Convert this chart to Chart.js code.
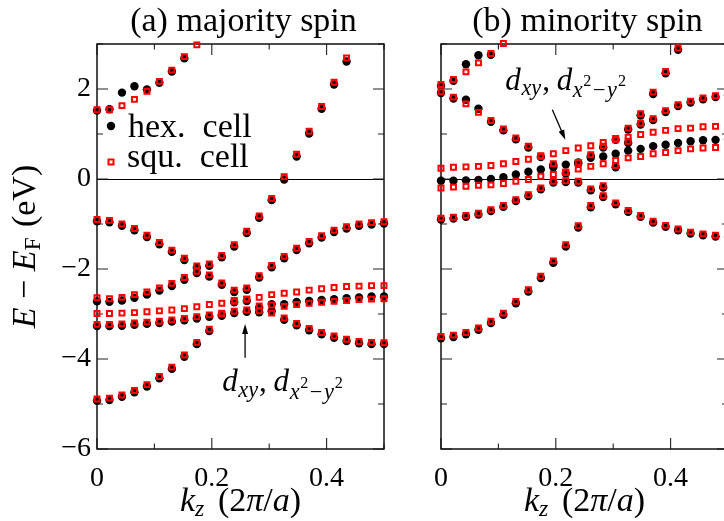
<!DOCTYPE html>
<html>
<head>
<meta charset="utf-8">
<title>Band structure: majority / minority spin</title>
<script src="https://cdn.jsdelivr.net/npm/chart.js@4.4.1/dist/chart.umd.min.js"></script>
<style>
    html, body { margin: 0; padding: 0; background: #fff; overflow: hidden; }
    #wrap { position: relative; width: 724px; height: 521px; overflow: hidden; }
    .panel { position: absolute; top: 0; width: 400px; height: 521px; }
    #panelA { left: 0; }
    #panelB { left: 344px; }
</style>
</head>
<body>
<div id="wrap">
    <div class="panel" id="panelA"><canvas id="majChart" width="400" height="521"></canvas></div>
    <div class="panel" id="panelB"><canvas id="minChart" width="400" height="521"></canvas></div>
</div>
<script>
// k_z grid in units of 2pi/a
const kz = [0, 0.0217, 0.0435, 0.0652, 0.0870, 0.1087, 0.1304, 0.1522, 0.1739, 0.1957, 0.2174, 0.2391,
            0.2609, 0.2826, 0.3043, 0.3261, 0.3478, 0.3696, 0.3913, 0.4130, 0.4348, 0.4565, 0.4783, 0.5000];

// axis ticks
const xTicks = [0, 0.1, 0.2, 0.3, 0.4, 0.5];
const xLabelled = [0, 0.2, 0.4];
const yTicks = [-6, -5, -4, -3, -2, -1, 0, 1, 2, 3];
const yLabelled = [-6, -4, -2, 0, 2];

// (a) majority spin - hex. cell
const majHex1 = [1.52, 1.55, 1.92, 2.06, 1.99, 2.14, 2.39, 2.68, null, null, null, null,
                 null, null, null, null, null, null, null, null, null, null, null, null];
const majHex2 = [-2.72, -2.73, -2.70, -2.64, -2.57, -2.48, -2.38, -2.24, -2.09, -1.93, -1.74, -1.50,
                 -1.20, -0.86, -0.47, -0.01, 0.50, 1.01, 1.56, 2.10, 2.61, null, null, null];
const majHex3 = [-0.94, -0.96, -1.04, -1.14, -1.29, -1.45, -1.62, -1.80, -1.97, -2.17, -2.35, -2.51,
                 -2.71, -2.86, -2.94, -3.13, -3.25, -3.36, -3.45, -3.53, -3.60, -3.65, -3.67, -3.67];
const majHex4 = [-4.93, -4.91, -4.84, -4.74, -4.61, -4.43, -4.22, -3.95, -3.67, -3.38, -3.04, -2.74,
                 -2.46, -2.19, -1.96, -1.76, -1.58, -1.43, -1.30, -1.18, -1.10, -1.04, -1.01, -0.99];
const majHex5 = [-3.27, -3.27, -3.26, -3.24, -3.22, -3.20, -3.17, -3.14, -3.10, -3.06, -3.02, -2.98,
                 -2.95, -2.96, -2.78, -2.78, -2.73, -2.71, -2.69, -2.67, -2.65, -2.63, -2.61, -2.61];

// (a) majority spin - squ. cell
const majSqu1 = [1.54, 1.54, 1.63, 1.77, 1.95, 2.17, 2.42, 2.72, 2.98, null, null, null,
                 null, null, null, null, null, null, null, null, null, null, null, null];
const majSqu2 = [-2.64, -2.66, -2.63, -2.57, -2.51, -2.42, -2.32, -2.19, -2.05, -1.89, -1.70, -1.46,
                 -1.16, -0.82, -0.43, 0.05, 0.55, 1.06, 1.61, 2.15, 2.69, null, null, null];
const majSqu3 = [-0.90, -0.92, -1.00, -1.10, -1.25, -1.41, -1.58, -1.76, -1.93, -2.13, -2.31, -2.47,
                 -2.67, -2.82, -2.98, -3.09, -3.21, -3.32, -3.41, -3.49, -3.56, -3.61, -3.63, -3.64];
const majSqu4 = [-4.89, -4.87, -4.80, -4.70, -4.57, -4.39, -4.18, -3.91, -3.63, -3.34, -3.00, -2.70,
                 -2.42, -2.15, -1.92, -1.72, -1.54, -1.39, -1.26, -1.14, -1.06, -1.00, -0.97, -0.95];
const majSqu5 = [-3.23, -3.23, -3.22, -3.20, -3.18, -3.16, -3.13, -3.10, -3.06, -3.02, -2.98, -2.94,
                 -2.91, -2.93, -2.80, -2.83, -2.79, -2.76, -2.74, -2.72, -2.70, -2.68, -2.67, -2.66];
const majSqu6 = [-2.99, -2.99, -2.98, -2.97, -2.95, -2.93, -2.91, -2.88, -2.84, -2.79, -2.76, -2.72,
                 -2.67, -2.63, -2.57, -2.54, -2.51, -2.47, -2.44, -2.41, -2.39, -2.38, -2.37, -2.37];

// (b) minority spin - hex. cell
const minHex1 = [2.07, 2.18, 2.55, 2.75, 2.76, null, null, null, null, null, null, null,
                 null, null, null, null, null, null, null, null, null, null, null, null];
const minHex2 = [1.91, 1.79, 1.76, 1.56, 1.27, 1.08, 0.88, 0.70, 0.49, 0.31, 0.12, -0.08,
                 -0.25, -0.40, -0.56, -0.73, -0.84, -0.97, -1.06, -1.14, -1.21, -1.25, -1.28, -1.29];
const minHex3 = [-0.90, -0.88, -0.84, -0.79, -0.71, -0.62, -0.49, -0.38, -0.23, -0.08, -0.07, 0.34,
                 0.51, 0.70, 0.87, 1.10, 1.21, 1.31, 1.49, 1.62, 1.70, 1.77, 1.82, 1.86];
const minHex4 = [-3.54, -3.51, -3.45, -3.35, -3.20, -3.02, -2.76, -2.50, -2.20, -1.86, -1.50, -1.08,
                 -0.63, -0.19, 0.26, 0.80, 1.41, 1.89, 2.35, 2.87, null, null, null, null];
const minHex5 = [-0.04, -0.04, -0.03, -0.02, 0.00, 0.04, 0.10, 0.16, 0.21, 0.26, 0.32, 0.37,
                 0.47, 0.50, 0.56, 0.63, 0.67, 0.73, 0.76, 0.80, 0.84, 0.86, 0.87, 0.88];

// (b) minority spin - squ. cell
const minSqu1 = [2.10, 2.21, 2.38, 2.58, 2.79, 3.01, null, null, null, null, null, null,
                 null, null, null, null, null, null, null, null, null, null, null, null];
const minSqu2 = [1.94, 1.82, 1.67, 1.48, 1.30, 1.11, 0.91, 0.73, 0.52, 0.34, 0.15, -0.05,
                 -0.22, -0.37, -0.53, -0.70, -0.81, -0.94, -1.03, -1.11, -1.18, -1.22, -1.25, -1.26];
const minSqu3 = [-0.87, -0.85, -0.81, -0.76, -0.68, -0.59, -0.46, -0.35, -0.20, -0.05, -0.04, 0.37,
                 0.54, 0.73, 0.90, 1.13, 1.24, 1.34, 1.52, 1.65, 1.73, 1.80, 1.85, 1.89];
const minSqu4 = [-3.50, -3.47, -3.41, -3.31, -3.16, -2.98, -2.72, -2.46, -2.16, -1.82, -1.46, -1.04,
                 -0.59, -0.15, 0.30, 0.84, 1.45, 1.93, 2.39, 2.91, null, null, null, null];
const minSqu5 = [0.24, 0.26, 0.27, 0.28, 0.30, 0.34, 0.39, 0.44, 0.50, 0.56, 0.63, 0.69,
                 0.74, 0.81, 0.87, 0.93, 0.99, 1.04, 1.08, 1.12, 1.13, 1.16, 1.17, 1.19];
const minSqu6 = [-0.20, -0.18, -0.16, -0.14, -0.13, -0.10, -0.05, -0.01, 0.06, 0.10, 0.15, 0.22,
                 0.28, 0.34, 0.41, 0.47, 0.50, 0.56, 0.59, 0.63, 0.67, 0.69, 0.70, 0.71];

const SERIF = '"Liberation Serif", "Times New Roman", serif';
const RED = "#ff0000";

// turn band arrays into scatter points
function toPoints(bands) {
    const pts = [];
    bands.forEach((band) => {
        band.forEach((e, i) => {
            if (e !== null) pts.push({ x: kz[i], y: e });
        });
    });
    return pts;
}

// draw a run of text pieces (italic / sub / superscript)
function richText(ctx, x, y, parts, size, align) {
    let w = 0;
    const runs = parts.map((p) => {
        const s = size * (p.s || 1);
        const font = (p.it ? "italic " : "") + s + "px " + SERIF;
        ctx.font = font;
        const tw = ctx.measureText(p.t).width;
        const run = { t: p.t, font: font, x: w, dy: (p.dy || 0) * size };
        w += tw + (p.gap || 0) * size;
        return run;
    });
    const x0 = align === "center" ? x - w / 2 : x;
    runs.forEach((r) => {
        ctx.font = r.font;
        ctx.fillText(r.t, x0 + r.x, y + r.dy);
    });
}

function arrow(ctx, x1, y1, x2, y2) {
    const ang = Math.atan2(y2 - y1, x2 - x1);
    const L = 10, W = 3;
    ctx.beginPath();
    ctx.moveTo(x1, y1);
    ctx.lineTo(x2 - 6 * Math.cos(ang), y2 - 6 * Math.sin(ang));
    ctx.stroke();
    ctx.beginPath();
    ctx.moveTo(x2, y2);
    ctx.lineTo(x2 - L * Math.cos(ang) + W * Math.sin(ang), y2 - L * Math.sin(ang) - W * Math.cos(ang));
    ctx.lineTo(x2 - L * Math.cos(ang) - W * Math.sin(ang), y2 - L * Math.sin(ang) + W * Math.cos(ang));
    ctx.closePath();
    ctx.fill();
}

const orbitalLabel = [
    { t: "d", it: 1, gap: 0.02 },
    { t: "xy", it: 1, s: 0.72, dy: 0.17, gap: 0.03 },
    { t: ",", gap: 0.22 },
    { t: "d", it: 1, gap: 0.02 },
    { t: "x", it: 1, s: 0.72, dy: 0.24, gap: 0.02 },
    { t: "2", s: 0.52, dy: -0.12, gap: 0.05 },
    { t: "\u2212", s: 0.72, dy: 0.24, gap: 0.05 },
    { t: "y", it: 1, s: 0.72, dy: 0.24, gap: 0.03 },
    { t: "2", s: 0.52, dy: -0.12 },
];

const kzLabel = [
    { t: "k", it: 1 },
    { t: "z", it: 1, s: 0.7, dy: 0.15, gap: 0.4 },
    { t: "(2" },
    { t: "\u03c0", it: 1 },
    { t: "/" },
    { t: "a", it: 1 },
    { t: ")" },
];

const energyLabel = [
    { t: "E", it: 1 },
    { t: " \u2212 " },
    { t: "E", it: 1 },
    { t: "F", s: 0.7, dy: 0.15, gap: 0.3 },
    { t: "(eV)" },
];

// frame with inward ticks on all four sides
const framePlugin = {
    id: "frame",
    beforeDatasetsDraw(chart) {
        const { ctx, chartArea: a, scales } = chart;
        ctx.save();
        ctx.strokeStyle = "#222";
        ctx.lineWidth = 1.1;
        ctx.beginPath();
        xTicks.forEach((v) => {
            const px = scales.x.getPixelForValue(v);
            const len = xLabelled.includes(v) ? 11 : 5.5;
            ctx.moveTo(px, a.bottom);
            ctx.lineTo(px, a.bottom - len);
            ctx.moveTo(px, a.top);
            ctx.lineTo(px, a.top + len);
        });
        yTicks.forEach((v) => {
            const py = scales.y.getPixelForValue(v);
            const len = yLabelled.includes(v) ? 11 : 6;
            ctx.moveTo(a.left, py);
            ctx.lineTo(a.left + len, py);
            ctx.moveTo(a.right, py);
            ctx.lineTo(a.right - len, py);
        });
        ctx.stroke();
        ctx.lineWidth = 1.5;
        ctx.strokeStyle = "#111";
        ctx.strokeRect(a.left, a.top, a.right - a.left, a.bottom - a.top);
        ctx.restore();
    },
};

function textPlugin(cfg) {
    return {
        id: "panelText",
        afterDraw(chart) {
            const { ctx, chartArea: a, scales } = chart;
            const cx = (a.left + a.right) / 2;
            ctx.save();
            ctx.fillStyle = "#000";
            ctx.strokeStyle = "#000";
            ctx.lineWidth = 1.3;
            ctx.textBaseline = "alphabetic";

            richText(ctx, cx + 3, 31, [{ t: cfg.title }], 34, "center");
            richText(ctx, cx, 511, kzLabel, 34, "center");

            if (cfg.yTitle) {
                ctx.save();
                ctx.translate(35, (a.top + a.bottom) / 2);
                ctx.rotate(-Math.PI / 2);
                richText(ctx, 0, 0, energyLabel, 34, "center");
                ctx.restore();
            }

            if (cfg.legend) {
                const lx = a.left + 14;
                ctx.beginPath();
                ctx.arc(lx, a.top + 82, 4.2, 0, Math.PI * 2);
                ctx.fill();
                ctx.save();
                ctx.strokeStyle = RED;
                ctx.lineWidth = 2;
                ctx.strokeRect(lx - 2.5, a.top + 118 - 2.5, 5, 5);
                ctx.restore();
                richText(ctx, a.left + 31, a.top + 93, [{ t: "hex.  cell" }], 34, "left");
                richText(ctx, a.left + 30, a.top + 123, [{ t: "squ.  cell" }], 34, "left");
            }

            const n = cfg.note;
            arrow(ctx,
                scales.x.getPixelForValue(n.from[0]), scales.y.getPixelForValue(n.from[1]),
                scales.x.getPixelForValue(n.to[0]), scales.y.getPixelForValue(n.to[1]));
            richText(ctx, scales.x.getPixelForValue(n.text[0]), scales.y.getPixelForValue(n.text[1]),
                orbitalLabel, 31, "left");
            ctx.restore();
        },
    };
}

function minusLabel(v) {
    return v < 0 ? "\u2212" + Math.abs(v) : String(v);
}

function makeChart(canvasId, hexBands, squBands, cfg) {
    const ctx = document.getElementById(canvasId).getContext("2d");
    return new Chart(ctx, {
        type: "scatter",
        data: {
            datasets: [
                {
                    label: "squ. cell",
                    data: toPoints(squBands),
                    pointStyle: "rect",
                    pointRadius: 3.5,
                    pointBackgroundColor: "rgba(0,0,0,0)",
                    pointBorderColor: RED,
                    pointBorderWidth: 2,
                    showLine: false,
                    order: 1,
                    clip: false,
                },
                {
                    label: "hex. cell",
                    data: toPoints(hexBands),
                    pointStyle: "circle",
                    pointRadius: 4.2,
                    pointBackgroundColor: "#000",
                    pointBorderWidth: 0,
                    showLine: false,
                    order: 2,
                    clip: false,
                },
            ],
        },
        options: {
            responsive: false,
            animation: false,
            events: [],
            layout: { padding: { top: 44, right: 16, left: 0, bottom: 0 } },
            plugins: {
                legend: { display: false },
                tooltip: { enabled: false },
                title: { display: false },
            },
            scales: {
                x: {
                    type: "linear",
                    min: 0,
                    max: 0.5,
                    afterBuildTicks: (scale) => {
                        scale.ticks = xTicks.map((v) => ({ value: v }));
                    },
                    afterFit: (scale) => {
                        scale.height = 72;
                    },
                    ticks: {
                        autoSkip: false,
                        maxRotation: 0,
                        minRotation: 0,
                        padding: 5,
                        color: "#000",
                        font: { family: SERIF, size: 28 },
                        callback: (v) => (xLabelled.includes(v) ? String(v) : ""),
                    },
                    grid: { display: false },
                    border: { display: false },
                },
                y: {
                    type: "linear",
                    min: -6,
                    max: 3,
                    afterBuildTicks: (scale) => {
                        scale.ticks = yTicks.map((v) => ({ value: v }));
                    },
                    afterFit: (scale) => {
                        scale.width = 97;
                    },
                    ticks: {
                        autoSkip: false,
                        padding: 6,
                        color: "#000",
                        font: { family: SERIF, size: 28 },
                        callback: (v) => (cfg.yLabels && yLabelled.includes(v) ? minusLabel(v) : ""),
                    },
                    grid: {
                        drawTicks: false,
                        lineWidth: 1,
                        color: (c) => (c.tick && c.tick.value === 0 ? "#000" : "rgba(0,0,0,0)"),
                    },
                    border: { display: false },
                },
            },
        },
        plugins: [framePlugin, textPlugin(cfg)],
    });
}

let majChart, minChart;

document.addEventListener("DOMContentLoaded", () => {
    majChart = makeChart("majChart",
        [majHex1, majHex2, majHex3, majHex4, majHex5],
        [majSqu1, majSqu2, majSqu3, majSqu4, majSqu5, majSqu6],
        {
            title: "(a) majority spin",
            yTitle: true,
            yLabels: true,
            legend: true,
            note: { from: [0.258, -3.97], to: [0.258, -3.22], text: [0.218, -4.72] },
        });

    minChart = makeChart("minChart",
        [minHex1, minHex2, minHex3, minHex4, minHex5],
        [minSqu1, minSqu2, minSqu3, minSqu4, minSqu5, minSqu6],
        {
            title: "(b) minority spin",
            yTitle: false,
            yLabels: false,
            legend: false,
            note: { from: [0.194, 1.54], to: [0.2166, 0.87], text: [0.112, 1.98] },
        });
});
</script>
</body>
</html>
